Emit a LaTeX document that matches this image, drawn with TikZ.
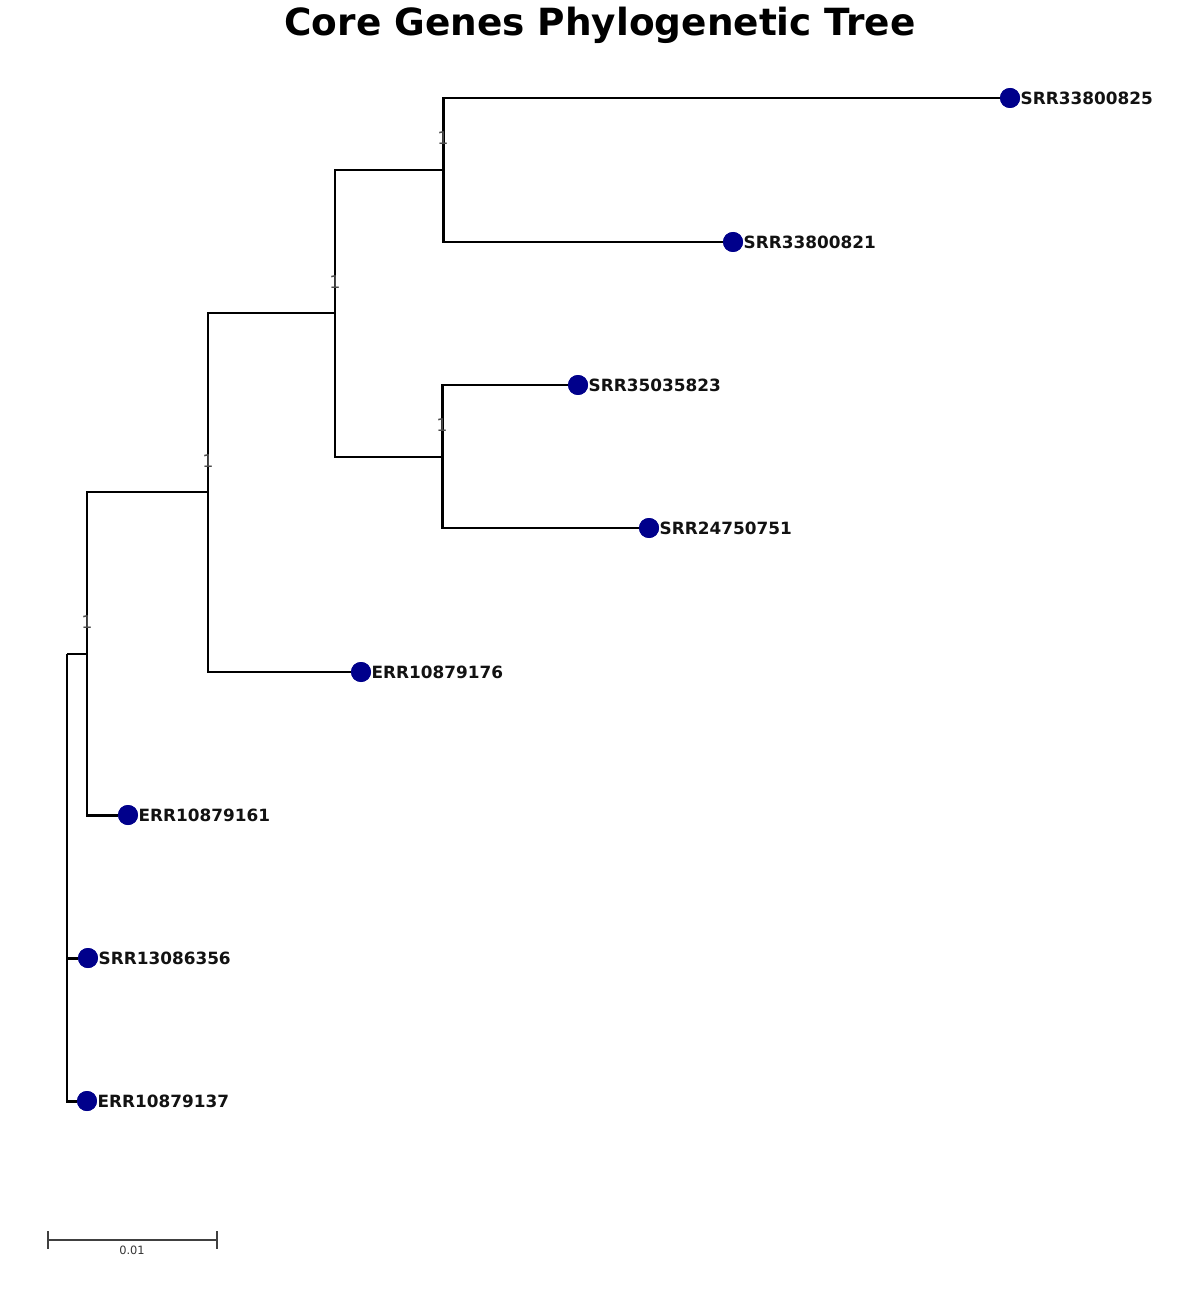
\documentclass[tikz,border=0pt]{standalone}
\usepackage{fontspec}
\setmainfont{DejaVu Sans}
\usepackage{tikz}
\definecolor{tipblue}{RGB}{0,0,139}

\begin{document}
\begin{tikzpicture}[x=0.02cm, y=-0.02cm,
  branch/.style={line width=1.7pt, black},
  tip/.style={circle, fill=tipblue, inner sep=0pt, minimum size=0.4cm},
  tiplabel/.style={anchor=west, font=\bfseries\fontsize{9.6}{11}\selectfont, text=black!93, inner sep=0pt},
  support/.style={font=\rmfamily\fontsize{10}{12}\selectfont, text=black!70, inner sep=0pt}]
\useasboundingbox (0,0) rectangle (1200,1290);

% Title
\node (title) at (600,25) {\bfseries\fontsize{21.3}{25}\selectfont Core Genes Phylogenetic Tree};

% Internal nodes
\coordinate (root) at (67,654);
\coordinate (n1) at (87,654);
\coordinate (n2) at (208,492);
\coordinate (n3) at (335,313);
\coordinate (n4) at (443,170);
\coordinate (n5) at (442,457);

% Tips
\node[tip] (t1) at (1010,98) {};
\node[tip] (t2) at (733,242) {};
\node[tip] (t3) at (578,385) {};
\node[tip] (t4) at (649,528) {};
\node[tip] (t5) at (361,672) {};
\node[tip] (t6) at (128,815) {};
\node[tip] (t7) at (88,958) {};
\node[tip] (t8) at (87,1101) {};

% Branches
\draw[branch] (root) -- (n1);
\draw[branch] (root) |- (t7);
\draw[branch] (root) |- (t8);
\draw[branch] (n1) |- (n2);
\draw[branch] (n1) |- (t6);
\draw[branch] (n2) |- (n3);
\draw[branch] (n2) |- (t5);
\draw[branch] (n3) |- (n4);
\draw[branch] (n3) |- (n5);
\draw[branch] (n4) |- (t1);
\draw[branch] (n4) |- (t2);
\draw[branch] (n5) |- (t3);
\draw[branch] (n5) |- (t4);

% Redraw tips on top
\foreach \t in {t1,t2,t3,t4,t5,t6,t7,t8}
  \fill[tipblue] (\t) circle (0.2cm);

% Tip labels
\node[tiplabel] (l1) at (t1.east) {SRR33800825};
\node[tiplabel] (l2) at (t2.east) {SRR33800821};
\node[tiplabel] (l3) at (t3.east) {SRR35035823};
\node[tiplabel] (l4) at (t4.east) {SRR24750751};
\node[tiplabel] (l5) at (t5.east) {ERR10879176};
\node[tiplabel] (l6) at (t6.east) {ERR10879161};
\node[tiplabel] (l7) at (t7.east) {SRR13086356};
\node[tiplabel] (l8) at (t8.east) {ERR10879137};

% Support values
\node[support] (s4) at (443,138) {1};
\node[support] (s3) at (335,282) {1};
\node[support] (s5) at (442,425) {1};
\node[support] (s2) at (208,461) {1};
\node[support] (s1) at (87,622) {1};

% Scale bar
\coordinate (sb1) at (48,1240);
\coordinate (sb2) at (217,1240);
\draw[black!75, line width=0.8pt] (sb1) -- (sb2);
\draw[black!75, line width=0.6pt] ([yshift=-5]sb1) -- ([yshift=5]sb1)
  ([yshift=-5]sb2) -- ([yshift=5]sb2);
\node[font=\fontsize{6.5}{8}\selectfont, text=black!80] (sblabel) at (132,1250) {0.01};
\end{tikzpicture}
\end{document}
